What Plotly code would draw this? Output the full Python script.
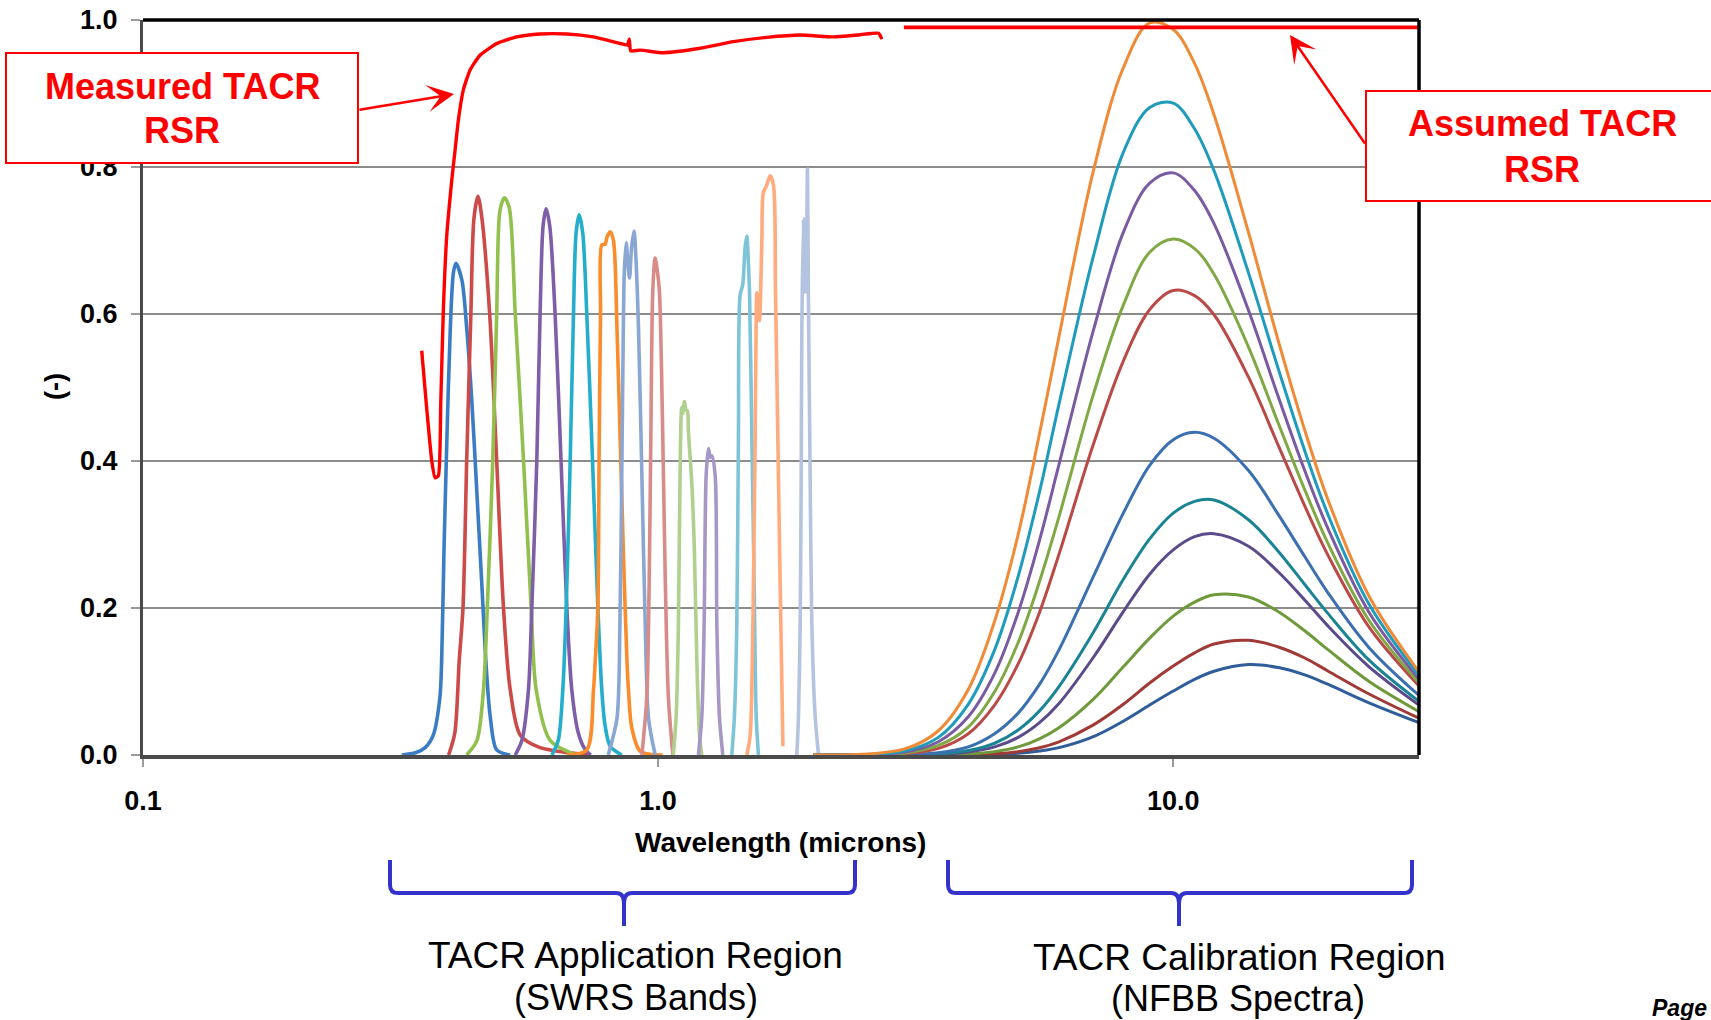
import math
import plotly.graph_objects as go

# ---------------- data (wavelength in microns, relative response) ----------------

# Measured TACR relative spectral response
MEASURED_WL = [0.3476, 0.3556, 0.3636, 0.369, 0.3745, 0.3785, 0.3829, 0.3888, 0.3976,
               0.4035, 0.4095, 0.4187, 0.4315, 0.451, 0.4862, 0.5317, 0.5901, 0.6648,
               0.7488, 0.8441, 0.872, 0.879, 0.885, 0.9226, 1.024, 1.2068, 1.4001,
               1.6262, 1.887, 2.19, 2.468, 2.678, 2.719]
MEASURED_RSR = [0.55, 0.47, 0.40, 0.377, 0.38, 0.48, 0.606, 0.707, 0.782,
                0.823, 0.864, 0.905, 0.932, 0.952, 0.968, 0.977, 0.981, 0.981,
                0.977, 0.968, 0.966, 0.974, 0.958, 0.959, 0.9555, 0.9615, 0.9705,
                0.9764, 0.9796, 0.977, 0.98, 0.982, 0.974]

# Assumed (flat) TACR relative spectral response
ASSUMED_WL = [3.0, 30.0]
ASSUMED_RSR = [0.99, 0.99]

# SWRS band relative spectral responses
B01_WL = [0.318, 0.338, 0.353, 0.366, 0.377, 0.380, 0.384, 0.389, 0.395, 0.4005, 0.405,
          0.416, 0.425, 0.435, 0.445, 0.455, 0.463, 0.472, 0.486, 0.516]
B01_RSR = [0.0, 0.003, 0.01, 0.027, 0.078, 0.128, 0.279, 0.43, 0.581, 0.656, 0.669,
           0.646, 0.581, 0.48, 0.354, 0.229, 0.128, 0.053, 0.007, 0.0]

B02_WL = [0.392, 0.403, 0.411, 0.418, 0.425, 0.433, 0.439, 0.447, 0.455, 0.471, 0.486,
          0.501, 0.516, 0.540, 0.590, 0.675, 0.74]
B02_RSR = [0.0, 0.03, 0.128, 0.2, 0.4, 0.6, 0.73, 0.76, 0.73, 0.6, 0.4,
           0.2, 0.09, 0.027, 0.01, 0.003, 0.0]

B03_WL = [0.425, 0.445, 0.458, 0.466, 0.4775, 0.486, 0.493, 0.503, 0.514, 0.528, 0.548,
          0.567, 0.580, 0.617, 0.695]
B03_RSR = [0.0, 0.02, 0.088, 0.2, 0.4, 0.6, 0.74, 0.758, 0.745, 0.6, 0.4,
           0.2, 0.088, 0.02, 0.0]

B04_WL = [0.528, 0.544, 0.560, 0.5686, 0.5814, 0.590, 0.598, 0.606, 0.616, 0.631, 0.648,
          0.665, 0.680, 0.700, 0.721, 0.74]
B04_RSR = [0.0, 0.02, 0.088, 0.2, 0.4, 0.6, 0.72, 0.743, 0.72, 0.6, 0.4,
           0.2, 0.088, 0.03, 0.008, 0.0]

B05_WL = [0.622, 0.640, 0.653, 0.663, 0.675, 0.685, 0.693, 0.7025, 0.714, 0.727, 0.746,
          0.764, 0.7775, 0.789, 0.807, 0.850]
B05_RSR = [0.0, 0.02, 0.088, 0.2, 0.4, 0.6, 0.71, 0.735, 0.71, 0.6, 0.4,
           0.2, 0.088, 0.04, 0.012, 0.0]

B06_WL = [0.665, 0.727, 0.749, 0.755, 0.764, 0.768, 0.773, 0.7775, 0.789, 0.796, 0.807,
          0.819, 0.832, 0.844, 0.856, 0.870, 0.876, 0.889, 0.923, 1.02]
B06_RSR = [0.0, 0.007, 0.088, 0.128, 0.2, 0.4, 0.6, 0.694, 0.695, 0.705, 0.712,
           0.70, 0.581, 0.43, 0.279, 0.128, 0.088, 0.037, 0.005, 0.0]

B07_WL = [0.80, 0.832, 0.843, 0.850, 0.856, 0.860, 0.867, 0.873, 0.880, 0.888, 0.898,
          0.905, 0.916, 0.930, 0.944, 0.958, 0.987]
B07_RSR = [0.0, 0.05, 0.178, 0.38, 0.581, 0.66, 0.697, 0.672, 0.649, 0.69, 0.713,
           0.68, 0.581, 0.38, 0.178, 0.05, 0.0]

B08_WL = [0.93, 0.9506, 0.9606, 0.9679, 0.9765, 0.9867, 0.996, 1.0058, 1.0212, 1.0332,
          1.0471, 1.068]
B08_RSR = [0.0, 0.078, 0.229, 0.43, 0.631, 0.676, 0.66, 0.631, 0.43, 0.229,
           0.078, 0.0]

B09_WL = [1.07, 1.084, 1.095, 1.103, 1.1117, 1.118, 1.1248, 1.132, 1.14, 1.145, 1.1625,
          1.176, 1.189, 1.203, 1.216]
B09_RSR = [0.0, 0.0525, 0.178, 0.38, 0.473, 0.465, 0.481, 0.47, 0.468, 0.44, 0.37,
           0.279, 0.128, 0.027, 0.0]

B10_WL = [1.1975, 1.2157, 1.2284, 1.2395, 1.2524, 1.262, 1.2716, 1.2906, 1.3002, 1.3152,
          1.3353]
B10_RSR = [0.0, 0.0525, 0.178, 0.38, 0.417, 0.405, 0.407, 0.38, 0.178, 0.0525,
           0.0]

B11_WL = [1.390, 1.4065, 1.4216, 1.4318, 1.4427, 1.46, 1.475, 1.487, 1.495, 1.5045,
          1.5206, 1.5364, 1.5502, 1.566]
B11_RSR = [0.0, 0.0525, 0.178, 0.43, 0.626, 0.64, 0.69, 0.706, 0.68, 0.631,
           0.43, 0.229, 0.0525, 0.0]

B12_WL = [1.487, 1.509, 1.5276, 1.5431, 1.5553, 1.565, 1.5733, 1.59, 1.60, 1.62, 1.65,
          1.675, 1.69, 1.708, 1.726, 1.747]
B12_RSR = [0.0, 0.027, 0.178, 0.43, 0.629, 0.605, 0.591, 0.70, 0.765, 0.773, 0.788,
           0.775, 0.63, 0.43, 0.229, 0.012]

B13_WL = [1.859, 1.8727, 1.887, 1.8957, 1.9012, 1.9148, 1.921, 1.9294, 1.9383, 1.9495,
          1.9581, 1.973, 1.988, 2.0181, 2.0481]
B13_RSR = [0.0, 0.0525, 0.178, 0.38, 0.581, 0.73, 0.63, 0.72, 0.63, 0.797,
           0.62, 0.38, 0.178, 0.0525, 0.0]

# NFBB spectra, normalised to the warmest source
NFBB_WL = [2, 3, 3.5, 4, 4.5, 5, 5.5, 6, 7, 8, 9, 10, 11, 12, 14, 16, 18, 20, 24, 30]
NFBB_01 = [0, 0.008, 0.033, 0.089, 0.182, 0.300, 0.437, 0.569, 0.795, 0.935, 0.996, 0.987,
           0.941, 0.871, 0.711, 0.563, 0.442, 0.346, 0.216, 0.113]
NFBB_02 = [0, 0.0055, 0.024, 0.069, 0.143, 0.243, 0.358, 0.477, 0.679, 0.820, 0.881, 0.887,
           0.852, 0.795, 0.656, 0.525, 0.414, 0.326, 0.205, 0.108]
NFBB_03 = [0, 0.0038, 0.018, 0.052, 0.111, 0.194, 0.292, 0.395, 0.578, 0.711, 0.778, 0.792,
           0.768, 0.723, 0.605, 0.487, 0.387, 0.307, 0.194, 0.103]
NFBB_04 = [0, 0.0025, 0.013, 0.038, 0.086, 0.153, 0.236, 0.324, 0.491, 0.612, 0.684, 0.702,
           0.689, 0.654, 0.555, 0.451, 0.361, 0.287, 0.183, 0.098]
NFBB_05 = [0, 0.0017, 0.009, 0.029, 0.068, 0.124, 0.194, 0.273, 0.423, 0.536, 0.606, 0.632,
           0.625, 0.599, 0.514, 0.421, 0.339, 0.271, 0.174, 0.094]
NFBB_06 = [0, 0.0005, 0.003, 0.011, 0.029, 0.057, 0.096, 0.143, 0.243, 0.329, 0.394, 0.429,
           0.439, 0.431, 0.387, 0.327, 0.270, 0.220, 0.146, 0.081]
NFBB_07 = [0, 0.0002, 0.0014, 0.006, 0.016, 0.034, 0.060, 0.093, 0.167, 0.239, 0.294, 0.329,
           0.345, 0.347, 0.320, 0.277, 0.232, 0.192, 0.129, 0.073]
NFBB_08 = [0, 0.0001, 0.0009, 0.004, 0.011, 0.024, 0.044, 0.070, 0.133, 0.195, 0.246, 0.279,
           0.297, 0.301, 0.284, 0.249, 0.211, 0.175, 0.120, 0.068]
NFBB_09 = [0, 0, 0.0003, 0.0015, 0.0046, 0.011, 0.022, 0.037, 0.076, 0.120, 0.159, 0.189,
           0.208, 0.218, 0.215, 0.195, 0.169, 0.143, 0.100, 0.059]
NFBB_10 = [0, 0, 0.0001, 0.0005, 0.0017, 0.0046, 0.0098, 0.018, 0.041, 0.069, 0.098, 0.121,
           0.139, 0.151, 0.156, 0.147, 0.132, 0.114, 0.083, 0.050]
NFBB_11 = [0, 0, 0, 0.0002, 0.0008, 0.0024, 0.0054, 0.010, 0.025, 0.046, 0.068, 0.087,
           0.103, 0.114, 0.123, 0.119, 0.109, 0.096, 0.071, 0.044]

X_TICKS = [0.1, 1.0, 10.0]
X_TICK_TEXT = ["0.1", "1.0", "10.0"]
Y_TICKS = [0.0, 0.2, 0.4, 0.6, 0.8, 1.0]
Y_TICK_TEXT = ["0.0", "0.2", "0.4", "0.6", "0.8", "1.0"]

# ---------------- styling ----------------
FONT = "Liberation Sans, Arial, Helvetica, sans-serif"
RED = "#ff0000"
BRACE_BLUE = "#3333cc"

BAND_SERIES = [
    (B01_WL, B01_RSR, "#3b7dc4"),
    (B02_WL, B02_RSR, "#cc4a47"),
    (B03_WL, B03_RSR, "#92c04f"),
    (B04_WL, B04_RSR, "#7f5ea8"),
    (B05_WL, B05_RSR, "#24aecb"),
    (B06_WL, B06_RSR, "#fb8c2c"),
    (B07_WL, B07_RSR, "#8aa6d3"),
    (B08_WL, B08_RSR, "#d88c8a"),
    (B09_WL, B09_RSR, "#b0d08e"),
    (B10_WL, B10_RSR, "#a697c4"),
    (B11_WL, B11_RSR, "#7ec4d8"),
    (B12_WL, B12_RSR, "#ffab7e"),
    (B13_WL, B13_RSR, "#b4c4e0"),
]

NFBB_SERIES = [
    (NFBB_11, "#2f5d9a"),
    (NFBB_10, "#a03a37"),
    (NFBB_09, "#6f9a3c"),
    (NFBB_08, "#5b4b8a"),
    (NFBB_07, "#1b8494"),
    (NFBB_06, "#3a6fb0"),
    (NFBB_05, "#b94a47"),
    (NFBB_04, "#80a844"),
    (NFBB_03, "#7a5aa0"),
    (NFBB_02, "#1f9bbb"),
    (NFBB_01, "#ef8a36"),
]

# page and plot-area geometry (pixels)
W, H = 1711, 1020
PL, PR, PT, PB = 143, 1419, 20, 755


def fx(px):
    return (px - PL) / (PR - PL)


def fy(py):
    return (PB - py) / (PB - PT)


fig = go.Figure()

for wl, rsr, color in BAND_SERIES:
    fig.add_trace(go.Scatter(x=wl, y=rsr, mode="lines",
                             line=dict(color=color, width=3.6, shape="spline", smoothing=0.8),
                             hoverinfo="x+y", showlegend=False))

for vals, color in NFBB_SERIES:
    fig.add_trace(go.Scatter(x=NFBB_WL, y=vals, mode="lines",
                             line=dict(color=color, width=3.0, shape="spline", smoothing=1.0),
                             hoverinfo="x+y", showlegend=False))

fig.add_trace(go.Scatter(x=MEASURED_WL, y=MEASURED_RSR, mode="lines",
                         line=dict(color=RED, width=3.4, shape="spline", smoothing=0.5),
                         name="Measured TACR RSR", showlegend=False))
fig.add_trace(go.Scatter(x=ASSUMED_WL, y=ASSUMED_RSR, mode="lines",
                         line=dict(color=RED, width=3.8),
                         name="Assumed TACR RSR", showlegend=False))

tick_font = dict(family=FONT, size=27, color="black", weight="bold")

fig.update_xaxes(type="log", range=[-1, math.log10(30)],
                 tickvals=X_TICKS, ticktext=X_TICK_TEXT, tickfont=tick_font,
                 ticks="outside", ticklen=8, tickwidth=1.5, tickcolor="#9a9a9a",
                 ticklabelstandoff=11,
                 showgrid=False, zeroline=False,
                 showline=True, linecolor="#4a4a4a", linewidth=3.5,
                 layer="below traces")
fig.update_yaxes(range=[0, 1], tickvals=Y_TICKS, ticktext=Y_TICK_TEXT, tickfont=tick_font,
                 ticks="outside", ticklen=9, tickwidth=1.5, tickcolor="#9a9a9a",
                 ticklabelstandoff=8,
                 showgrid=True, gridcolor="#8c8c8c", gridwidth=1.5, zeroline=False,
                 showline=True, linecolor="#4a4a4a", linewidth=3,
                 layer="below traces")


def brace_path(x0, xc, x1, ytop=860, ybar=893, ytip=926, r=8):
    p = lambda x, y: f"{fx(x):.5f},{fy(y):.5f}"
    return (f"M{p(x0, ytop)} L{p(x0, ybar - r)} Q{p(x0, ybar)} {p(x0 + r, ybar)} "
            f"L{p(xc - r, ybar)} Q{p(xc, ybar)} {p(xc, ybar + r + 2)} L{p(xc, ytip)} "
            f"M{p(xc, ybar + r + 2)} Q{p(xc, ybar)} {p(xc + r, ybar)} "
            f"L{p(x1 - r, ybar)} Q{p(x1, ybar)} {p(x1, ybar - r)} L{p(x1, ytop)}")


shapes = [
    # top and right frame of the plot area
    dict(type="line", xref="paper", yref="paper", x0=0, x1=1, y0=1, y1=1,
         line=dict(color="black", width=3.5), layer="above"),
    dict(type="line", xref="paper", yref="paper", x0=1, x1=1, y0=0, y1=1,
         line=dict(color="black", width=3.5), layer="above"),
    # callout boxes
    dict(type="rect", xref="paper", yref="paper", x0=fx(6), x1=fx(358), y0=fy(163), y1=fy(53),
         line=dict(color=RED, width=2), fillcolor="white", layer="above"),
    dict(type="rect", xref="paper", yref="paper", x0=fx(1366), x1=fx(1718), y0=fy(201), y1=fy(91),
         line=dict(color=RED, width=2), fillcolor="white", layer="above"),
    # region braces
    dict(type="path", xref="paper", yref="paper", path=brace_path(390, 624, 855),
         line=dict(color=BRACE_BLUE, width=4), layer="above"),
    dict(type="path", xref="paper", yref="paper", path=brace_path(948, 1179, 1412),
         line=dict(color=BRACE_BLUE, width=4), layer="above"),
]


def label(text, x, y, size, color="black", bold=False, italic=False, xanchor="center", angle=0):
    return dict(text=text, x=fx(x), y=fy(y), xref="paper", yref="paper", showarrow=False,
                xanchor=xanchor, yanchor="middle", textangle=angle,
                font=dict(family=FONT, size=size, color=color,
                          weight="bold" if bold else "normal",
                          style="italic" if italic else "normal"))


def arrow(x_tip, y_tip, x_tail, y_tail):
    return dict(text="", x=fx(x_tip), y=fy(y_tip), xref="paper", yref="paper",
                showarrow=True, ax=x_tail - x_tip, ay=y_tail - y_tip,
                arrowhead=3, arrowsize=1.8, arrowwidth=2.5, arrowcolor=RED,
                standoff=0, startstandoff=0)


annotations = [
    label("(-)", 55, 387, 27, bold=True, angle=-90),
    label("Wavelength (microns)", 780, 842.5, 28, bold=True),
    label("Measured TACR", 182, 86.7, 36, color=RED, bold=True),
    label("RSR", 182, 130.3, 36, color=RED, bold=True),
    label("Assumed TACR", 1542, 123.3, 36, color=RED, bold=True),
    label("RSR", 1542, 169.7, 36, color=RED, bold=True),
    label("TACR Application Region", 635, 955, 37),
    label("(SWRS Bands)", 636, 997, 36),
    label("TACR Calibration Region", 1239, 957, 37),
    label("(NFBB Spectra)", 1237.5, 998, 36),
    label("Page", 1650, 1008, 23, bold=True, italic=True, xanchor="left"),
    arrow(454, 94, 358, 110),
    arrow(1290, 35, 1366, 145),
]

fig.update_layout(
    width=W, height=H, autosize=False,
    margin=dict(l=PL, r=W - PR, t=PT, b=H - PB, autoexpand=False),
    paper_bgcolor="white", plot_bgcolor="white",
    showlegend=False,
    shapes=shapes, annotations=annotations,
    font=dict(family=FONT),
)

fig.write_html("out.html")
